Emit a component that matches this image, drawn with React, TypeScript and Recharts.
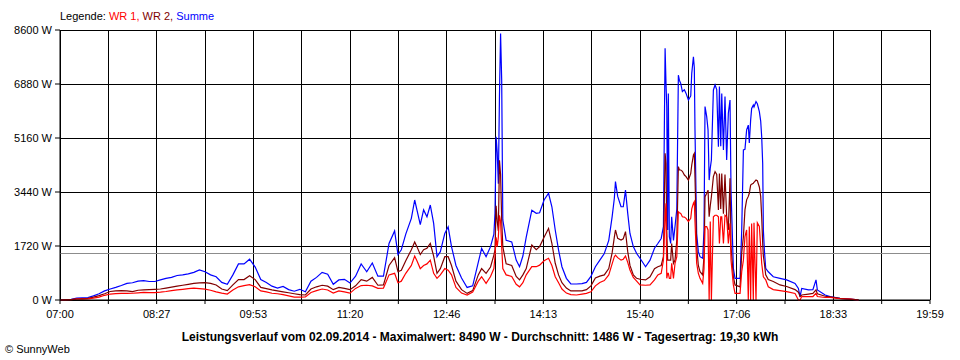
// SunnyWeb daily power curve (Leistungsverlauf) redrawn with Recharts
import React from 'react';
import { LineChart, Line, XAxis, YAxis, CartesianGrid, ReferenceLine } from 'recharts';

// minutes after 07:00
const minutes = [
  0, 5, 10, 15, 20, 25, 30, 35, 40, 45,
  50, 55, 60, 65, 70, 75, 80, 85, 90, 95,
  100, 105, 110, 115, 120, 125, 130, 135, 140, 145,
  150, 155, 160, 165, 170, 175, 180, 185, 190, 195,
  200, 205, 210, 215, 220, 225, 230, 235, 240, 245,
  250, 255, 260, 265, 270, 275, 280, 285, 290, 295,
  300, 303, 306, 310, 315, 318, 320, 323, 326, 329,
  332, 335, 338, 341, 345, 348, 351, 355, 360, 365,
  370, 375, 378, 382, 386, 389, 390, 391, 392, 393,
  394, 395, 396, 397, 400, 405, 409, 412, 415, 418,
  423, 427, 430, 434, 438, 441, 444, 447, 450, 454,
  458, 463, 468, 472, 476, 480, 484, 488, 492, 495,
  497, 498, 500, 503, 505, 507, 509, 511, 514, 517,
  520, 525, 529, 533, 536, 539, 541, 542.5, 543.3, 544,
  544.8, 545.4, 546.3, 547.5, 548.4, 550, 551.4, 553, 554.4, 555.3,
  556.5, 558, 559.8, 561.3, 563.4, 565.5, 566.4, 567.9, 568.7, 569.3,
  570.8, 572.3, 573.8, 576.2, 577.4, 578.3, 579.8, 581, 582, 583,
  584, 585.8, 587.3, 588.8, 590.3, 591.2, 592.4, 593.3, 594.8, 596.2,
  597.7, 599.2, 600.7, 601.6, 603.7, 605.2, 609.7, 611.2, 612.7, 614.1,
  615.6, 617.1, 618, 619.2, 620.1, 621.6, 622.2, 624, 625.2, 627,
  628.2, 629.1, 630, 630.6, 631.5, 632.7, 635, 639.5, 645.5, 651.5,
  659, 662, 663.5, 665, 671, 675, 677.8, 679, 686, 690.4,
  699.3, 708.3, 713, 716,
];

const summe = [
  0, 10, 20, 60, 70, 80, 130, 200, 290, 350,
  400, 460, 530, 550, 600, 620, 590, 590, 640, 690,
  720, 780, 800, 830, 880, 960, 900, 800, 740, 560,
  500, 800, 1150, 1150, 1300, 1050, 650, 560, 440, 380,
  430, 330, 280, 340, 260, 600, 720, 880, 820, 500,
  640, 660, 540, 760, 1150, 900, 1180, 760, 760, 1800,
  2200, 1450, 1600, 2100, 2600, 3185, 2870, 2400, 2870, 2650,
  3025, 2440, 1380, 1540, 2120, 2330, 1700, 1100, 700, 400,
  450, 1200, 1640, 1380, 1700, 2100, 2760, 5200, 4700, 3700,
  6500, 8490, 7000, 2550, 1900, 1850, 1270, 1060, 1400, 2000,
  2860, 2760, 2780, 3185, 3400, 2970, 2230, 1590, 1060, 690,
  510, 510, 520, 560, 750, 1060, 1270, 1480, 1900, 2650,
  3240, 3770, 3300, 2970, 2970, 3500, 2760, 2120, 1700, 1480,
  1330, 1060, 1270, 1650, 1800, 1960, 2340, 8020, 6900, 6160,
  2230, 6580, 2020, 1800, 2650, 1900, 2340, 2900, 7160, 7000,
  6900, 6640, 6700, 6580, 6370, 6500, 7220, 7750, 7400, 5420,
  2120, 1540, 1380, 1330, 2230, 6160, 5840, 5420, 3820, 4200,
  4460, 6690, 6850, 6700, 4880, 6800, 4900, 6580, 4780, 6480,
  4460, 5950, 6370, 3500, 1010, 690, 690, 2230, 4780, 4800,
  5420, 5570, 5000, 5730, 6100, 6210, 6150, 6320, 6250, 6000,
  5700, 5200, 4350, 2230, 1590, 1010, 900, 740, 690, 640,
  530, 370, 110, 370, 320, 330, 640, 320, 160, 110,
  50, 30, 10, 0,
];

const wr2 = [
  0, 5, 10, 40, 45, 50, 90, 140, 200, 270,
  290, 300, 290, 270, 310, 320, 330, 340, 350, 380,
  410, 440, 470, 500, 530, 545, 555, 530, 480, 350,
  300, 480, 650, 650, 770, 650, 400, 360, 320, 290,
  260, 230, 200, 170, 160, 350, 420, 470, 440, 330,
  400, 370, 330, 450, 650, 600, 720, 470, 480, 1100,
  1350, 900, 950, 1250, 1600, 1850, 1700, 1450, 1600, 1650,
  1800, 1400, 850, 1000, 1380, 1380, 1100, 600, 330, 210,
  300, 800, 1000, 850, 1050, 1430, 1600, 3000, 2500, 2200,
  4450, 4000, 2550, 1700, 1150, 1100, 750, 640, 800, 1000,
  1750, 1600, 1700, 2000, 2280, 1800, 1170, 800, 550, 380,
  290, 290, 290, 330, 450, 700, 760, 800, 1000, 1500,
  2000, 2230, 1965, 1910, 1950, 2180, 1540, 1100, 800, 690,
  660, 640, 740, 1000, 1060, 1100, 1380, 4670, 4350, 2230,
  1270, 1270, 1270, 1270, 1800, 1170, 1270, 1910, 4250, 4140,
  4140, 4100, 3980, 3930, 3820, 4030, 4300, 4620, 4670, 3900,
  1700, 1100, 900, 800, 1400, 3290, 3400, 3500, 2650, 3000,
  3290, 3930, 4090, 4000, 2870, 4030, 2900, 4030, 2750, 4000,
  2650, 2230, 3880, 1700, 740, 480, 420, 1500, 2020, 2870,
  3190, 3300, 3400, 3660, 3690, 3720, 3750, 3820, 3800, 3600,
  3300, 2650, 1800, 1400, 1170, 800, 650, 590, 480, 430,
  330, 250, 110, 160, 190, 210, 320, 200, 120, 100,
  50, 30, 10, 0,
];

const wr1 = [
  0, 5, 10, 30, 30, 35, 60, 90, 150, 190,
  200, 210, 210, 215, 230, 240, 235, 235, 250, 270,
  300, 320, 340, 360, 375, 360, 345, 310, 260, 220,
  190, 320, 420, 460, 490, 420, 290, 260, 215, 200,
  170, 130, 90, 90, 100, 240, 300, 350, 320, 220,
  290, 260, 220, 370, 460, 470, 450, 370, 380, 800,
  850, 550, 600, 850, 1100, 1400, 1250, 1000, 1100, 1150,
  1270, 850, 690, 800, 1000, 950, 800, 400, 220, 160,
  250, 600, 740, 530, 750, 1000, 1400, 2000, 1700, 2000,
  2700, 2500, 1700, 1000, 800, 750, 500, 420, 550, 800,
  1060, 1060, 1110, 1250, 1330, 1100, 740, 550, 350, 220,
  170, 160, 190, 210, 260, 450, 560, 620, 800, 1150,
  1380, 1430, 1350, 1270, 1300, 1400, 1200, 955, 720, 600,
  480, 470, 480, 640, 800, 850, 1270, 2650, 3080, 690,
  850, 850, 690, 690, 1170, 690, 1170, 1380, 2810, 2780,
  2760, 2650, 2640, 2600, 2500, 2600, 2900, 3080, 3130, 2500,
  1170, 850, 690, 530, 1000, 2340, 2340, 2230, 0, 2500,
  0, 2650, 2700, 2700, 2650, 1800, 2650, 2650, 1800, 2700,
  2650, 1800, 2440, 1270, 480, 210, 210, 900, 1270, 2020,
  2230, 0, 2340, 0, 2440, 0, 2460, 0, 2460, 2340,
  1700, 1170, 900, 740, 700, 640, 420, 330, 300, 265,
  210, 0, 0, 110, 110, 110, 210, 110, 80, 80,
  40, 30, 10, 0,
];

const timeLabels = ['07:00', '08:27', '09:53', '11:20', '12:46', '14:13', '15:40', '17:06', '18:33', '19:59'];
const powerTicks = [0, 1720, 3440, 5160, 6880, 8600];
const average = 1486;

const COLORS = {
  wr1: '#ff0000',
  wr2: '#800000',
  summe: '#0000ff',
  grid: '#000000',
  avg: '#8c8c8c',
};

const FONT = '"Liberation Sans", Arial, sans-serif';

const data = minutes.map((t, i) => ({ t, wr1: wr1[i], wr2: wr2[i], summe: summe[i] }));

// one grid line every 43.33 min, a label on every second one
const timeTicks = Array.from({ length: 19 }, (_, i) => (i * 780) / 18);

const formatTime = (_v: number, index: number) => (index % 2 === 0 ? timeLabels[index / 2] : '');

export default function App() {
  return (
    <div style={{ position: 'fixed', left: 0, top: 0, width: 960, height: 360, background: '#fff', fontFamily: FONT }}>
      <div style={{ position: 'absolute', left: 60, top: 9, fontSize: 11, lineHeight: '14px', whiteSpace: 'pre' }}>
        <span style={{ color: '#000' }}>Legende: </span>
        <span style={{ color: COLORS.wr1 }}>WR 1, </span>
        <span style={{ color: COLORS.wr2 }}>WR 2, </span>
        <span style={{ color: COLORS.summe }}>Summe</span>
      </div>
      <LineChart width={960} height={360} data={data} margin={{ top: 30, right: 30, left: 0, bottom: 40 }}>
        <CartesianGrid stroke={COLORS.grid} strokeWidth={1} shapeRendering="crispEdges" />
        <XAxis
          dataKey="t"
          type="number"
          domain={[0, 780]}
          ticks={timeTicks}
          interval={0}
          tickFormatter={formatTime}
          height={20}
          stroke="#000"
          tickSize={4}
          tickMargin={6}
          tick={{ fill: '#000', fontSize: 11, fontFamily: FONT }}
        />
        <YAxis
          type="number"
          domain={[0, 8600]}
          ticks={powerTicks}
          interval={0}
          width={60}
          stroke="#000"
          tickSize={5}
          tickMargin={3}
          tickFormatter={(v: number) => `${v} W`}
          tick={{ fill: '#000', fontSize: 11, fontFamily: FONT }}
        />
        <ReferenceLine y={average} stroke={COLORS.avg} strokeWidth={1} shapeRendering="crispEdges" />
        <Line type="linear" dataKey="summe" stroke={COLORS.summe} strokeWidth={1.2} dot={false} isAnimationActive={false} />
        <Line type="linear" dataKey="wr2" stroke={COLORS.wr2} strokeWidth={1.2} dot={false} isAnimationActive={false} />
        <Line type="linear" dataKey="wr1" stroke={COLORS.wr1} strokeWidth={1.2} dot={false} isAnimationActive={false} />
      </LineChart>
      <div style={{ position: 'absolute', left: 0, top: 330, width: 960, textAlign: 'center', fontSize: 12, fontWeight: 'bold', lineHeight: '14px' }}>
        Leistungsverlauf vom 02.09.2014 - Maximalwert: 8490 W - Durchschnitt: 1486 W - Tagesertrag: 19,30 kWh
      </div>
      <div style={{ position: 'absolute', left: 5, top: 342, fontSize: 11, lineHeight: '14px' }}>
        © SunnyWeb
      </div>
    </div>
  );
}
